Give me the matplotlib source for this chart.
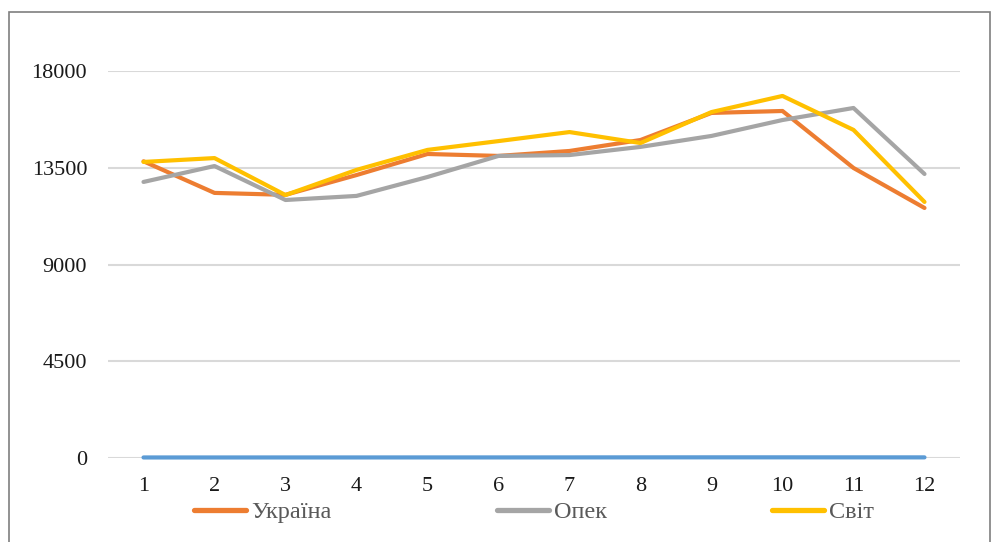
import matplotlib.pyplot as plt
from matplotlib.lines import Line2D
from matplotlib.patches import Rectangle

plt.rcParams['font.family'] = ['Liberation Serif', 'DejaVu Serif']

months = list(range(1, 13))
series_blue = [25, 25, 26, 26, 27, 27, 28, 30, 31, 31, 30, 29]
ukraine = [13800, 12330, 12240, 13160, 14140, 14050, 14280, 14790, 16050, 16140, 13490, 11630]
opec = [12840, 13580, 12000, 12190, 13070, 14050, 14090, 14470, 14980, 15720, 16280, 13210]
world = [13770, 13950, 12230, 13400, 14330, 14740, 15160, 14650, 16090, 16840, 15260, 11910]
yticks = [0, 4500, 9000, 13500, 18000]
names = ['Україна', 'Опек', 'Світ']
colors = ['#ED7D31', '#A5A5A5', '#FFC000']

fig = plt.figure(figsize=(9.92, 5.42), dpi=100)
ax = fig.add_axes([108 / 992, 1 - 458 / 542, (960 - 108) / 992, (458 - 71) / 542])

lw = 3.0
ax.plot(months, series_blue, color='#5B9BD5', lw=lw, solid_capstyle='round', clip_on=False)
for vals, c in zip([ukraine, opec, world], colors):
    ax.plot(months, vals, color=c, lw=lw, solid_capstyle='round', solid_joinstyle='round')

ax.set_xlim(0.5, 12.5)
ax.set_ylim(0, 18000)
ax.set_xticks(months)
ax.set_yticks(yticks)
ax.set_yticklabels([str(v) for v in yticks])
ax.tick_params(axis='both', length=0, labelsize=16, colors='#1a1a1a')
ax.tick_params(axis='x', pad=14)
ax.tick_params(axis='y', pad=15)
ax.grid(axis='y', color='#D9D9D9', lw=1.5)
ax.set_axisbelow(True)
for s in ax.spines.values():
    s.set_visible(False)

handles = [Line2D([], [], color=c, lw=3.8, solid_capstyle='round') for c in colors]
leg = fig.legend(handles, names, loc='center left', bbox_to_anchor=(194 / 992, 1 - 512 / 542),
                 ncol=3, frameon=False, fontsize=17.5, handlelength=2.15, handletextpad=0.2,
                 columnspacing=6.8, borderaxespad=0, borderpad=0)
for t in leg.get_texts():
    t.set_color('#595959')

fig.patches.append(Rectangle((9 / 992, -0.01), (990 - 9) / 992, 1 - 12 / 542 + 0.01,
                             transform=fig.transFigure, fill=False, edgecolor='#7F7F7F', lw=1.2))

fig.savefig('out.png', dpi=100)
